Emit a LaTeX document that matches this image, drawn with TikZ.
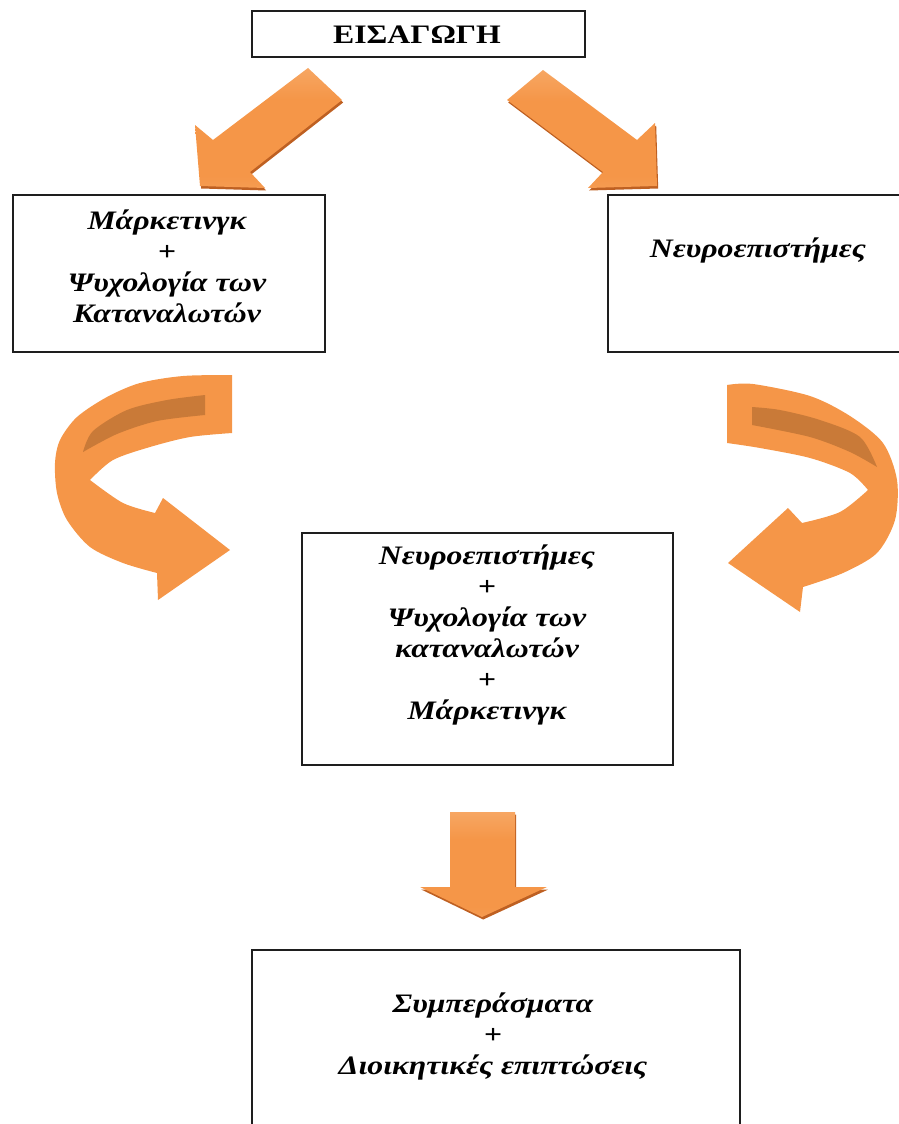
\documentclass[tikz,border=0pt]{standalone}
\usepackage{fontspec}
\setmainfont[FakeStretch=1.19]{Liberation Serif}
\begin{document}
\definecolor{orangemain}{RGB}{245,150,72}
\definecolor{orangelight}{RGB}{250,198,150}
\definecolor{orangepale}{RGB}{249,184,130}
\definecolor{orangeshadow}{RGB}{190,96,34}
\definecolor{orangestripe}{RGB}{201,122,56}
\definecolor{boxline}{RGB}{30,30,30}
\pgfdeclareverticalshading{arrowfill}{100bp}{color(0bp)=(orangepale); color(30bp)=(orangemain); color(62bp)=(orangemain); color(100bp)=(orangelight)}
\begin{tikzpicture}[x=0.75pt,y=-0.75pt,
  framebox/.style={draw=boxline,line width=1.4pt,inner sep=0pt,fill=none},
  boxtext/.style={align=center,font=\fontsize{20}{23.25}\selectfont\bfseries\itshape,inner sep=0pt},
  blockarrow/.style={shading=arrowfill},
  arrowshadow/.style={fill=orangeshadow},
  curvedarrow/.style={fill=orangemain},
  stripe/.style={fill=orangestripe}]
\useasboundingbox (0,0) rectangle (899,1124);
\clip (0,0) rectangle (899,1124);

% boxes
\node[framebox,minimum width=249.75pt,minimum height=34.5pt] (intro) at (418.5,34) {};
\node[framebox,minimum width=234pt,minimum height=117.75pt] (left) at (169,273.5) {};
\node[framebox,minimum width=264pt,minimum height=117.75pt] (right) at (784,273.5) {};
\node[framebox,minimum width=278.25pt,minimum height=174pt] (middle) at (487.5,649) {};
\node[framebox,minimum width=366pt,minimum height=187.5pt] (result) at (496,1075) {};

% texts
\node[boxtext,font=\fontsize{20}{23.25}\selectfont\bfseries] (introtext) at (417,35) {ΕΙΣΑΓΩΓΗ};
\node[boxtext] (lefttext) at (167,266) {Μάρκετινγκ\\+\\Ψυχολογία των\\Καταναλωτών};
\node[boxtext] (righttext) at (758,250) {Νευροεπιστήμες};
\node[boxtext] (middletext) at (487,635) {Νευροεπιστήμες\\+\\Ψυχολογία των\\καταναλωτών\\+\\Μάρκετινγκ};
\node[boxtext] (resulttext) at (493,1036) {Συμπεράσματα\\+\\Διοικητικές επιπτώσεις};

% straight block arrows: shadow first, then shaded body
\fill[arrowshadow,shift={(1.2,2.5)}] (308,68) -- (213,140) -- (195,125) -- (200,186) -- (265,188) -- (250,172) -- (342,100) -- cycle;
\shade[blockarrow] (308,68) -- (213,140) -- (195,125) -- (200,186) -- (265,188) -- (250,172) -- (342,100) -- cycle;

\fill[arrowshadow,shift={(1.2,2.5)}] (543,70) -- (637,140) -- (655,123) -- (657,186) -- (588,188) -- (603,172) -- (507,100) -- cycle;
\shade[blockarrow] (543,70) -- (637,140) -- (655,123) -- (657,186) -- (588,188) -- (603,172) -- (507,100) -- cycle;

\fill[arrowshadow,shift={(1.2,2.5)}] (450,812) -- (515,812) -- (515,887) -- (547,887) -- (482,917) -- (420,887) -- (450,887) -- cycle;
\shade[blockarrow] (450,812) -- (515,812) -- (515,887) -- (547,887) -- (482,917) -- (420,887) -- (450,887) -- cycle;

% left U-turn arrow
\fill[curvedarrow] (232,375)
  -- plot[smooth] coordinates {(232,375) (183,376) (140,383) (107,397) (77,417) (60,440) (55,463) (57,493) (67,520) (90,547) (123,563) (157,573)}
  -- (158,600) -- (230,550) -- (163,498) -- (155,513)
  -- plot[smooth] coordinates {(155,513) (123,503) (90,480)}
  -- plot[smooth] coordinates {(90,480) (113,460) (150,447) (190,437) (232,433)}
  -- cycle;
\fill[stripe] (205,395) -- (205,415)
  -- plot[smooth] coordinates {(205,415) (157,421) (117,434) (83,452)}
  -- plot[smooth] coordinates {(83,452) (93,431) (127,410) (167,400) (205,395)}
  -- cycle;

% right U-turn arrow
\fill[curvedarrow] (727,385)
  -- plot[smooth] coordinates {(727,385) (753,384) (810,396) (850,416) (883,443) (897,480) (895,520) (877,553) (843,573) (803,587)}
  -- (800,612) -- (728,563) -- (788,508) -- (802,523)
  -- plot[smooth] coordinates {(802,523) (840,512) (868,490)}
  -- plot[smooth] coordinates {(868,490) (850,473) (810,458) (760,448) (727,443)}
  -- cycle;
\fill[stripe] (752,407) -- (752,425)
  -- plot[smooth] coordinates {(752,425) (810,437) (850,452) (877,467)}
  -- plot[smooth] coordinates {(877,467) (860,437) (820,420) (780,410) (752,407)}
  -- cycle;
\end{tikzpicture}
\end{document}
